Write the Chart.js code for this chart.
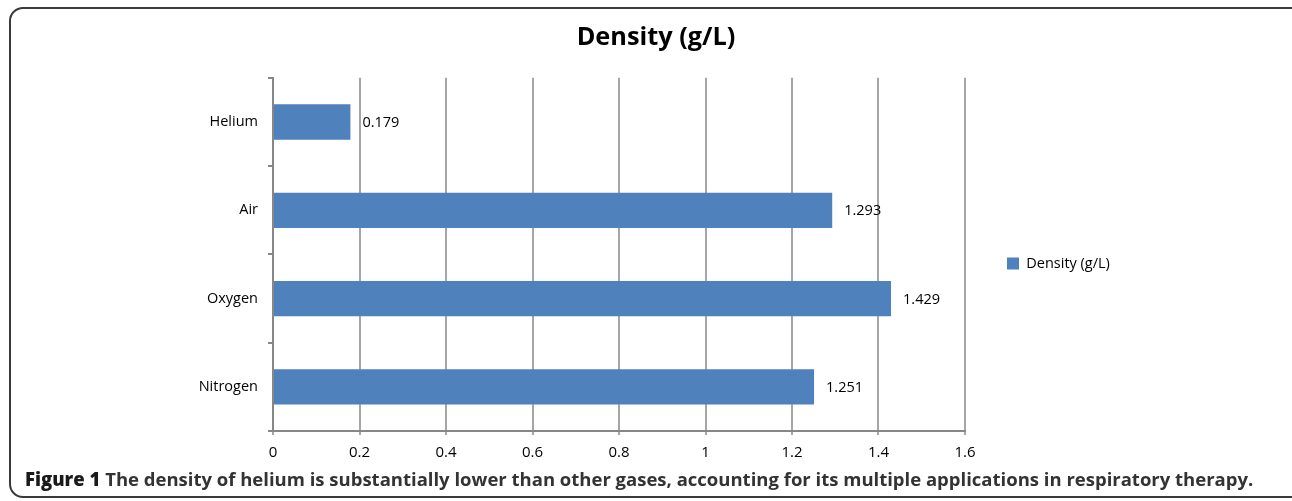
<!DOCTYPE html>
<html>
<head>
<meta charset="utf-8">
<script src="https://cdn.jsdelivr.net/npm/chart.js@4.4.1/dist/chart.umd.min.js"></script>
<style>
  html, body { margin: 0; padding: 0; background: #fff; }
  body { width: 1292px; height: 501px; position: relative; overflow: hidden; }
  #frame { position: absolute; left: 9px; top: 7px; width: 1300px; height: 491px;
           border: 2px solid #3a3a3a; border-radius: 14px; box-sizing: border-box; }
  #wrap { position: absolute; left: 0; top: 0; width: 1292px; height: 471px; }
  #caption { position: absolute; left: 25px; top: 466px; white-space: nowrap;
             font-family: "Open Sans", sans-serif; font-weight: 700; font-size: 18.5px; color: #333; }
  #caption b { color: #1a1a1a; }
</style>
</head>
<body>
<div id="frame"></div>
<div id="wrap"><canvas id="c"></canvas></div>
<div id="caption"><b>Figure 1</b> The density of helium is substantially lower than other gases, accounting for its multiple applications in respiratory therapy.</div>
<script>
const categories = ["Helium", "Air", "Oxygen", "Nitrogen"];
const densityValues = [0.179, 1.293, 1.429, 1.251];
const seriesName = "Density (g/L)";
const chartTitle = "Density (g/L)";
const xTickMin = 0, xTickMax = 1.6, xTickStep = 0.2;

const FONT = '"Open Sans", sans-serif';
const LEGEND_WIDTH = 327;
const LEGEND_SHIFT_Y = 28;

const valueLabels = {
  id: 'valueLabels',
  afterDatasetsDraw(chart) {
    const ctx = chart.ctx;
    const meta = chart.getDatasetMeta(0);
    ctx.save();
    ctx.font = '14.5px ' + FONT;
    ctx.fillStyle = '#000';
    ctx.textAlign = 'left';
    ctx.textBaseline = 'middle';
    meta.data.forEach((bar, i) => {
      ctx.fillText(String(chart.data.datasets[0].data[i]), bar.x + 12, bar.y + 1);
    });
    ctx.restore();
  }
};

const legendFix = {
  id: 'legendFix',
  beforeLayout(chart) {
    const lg = chart.legend;
    if (lg && !lg._fixed) {
      const orig = lg.fit.bind(lg);
      lg.fit = function () { orig(); this.width = LEGEND_WIDTH; };
      lg._fixed = true;
    }
  },
  afterLayout(chart) {
    const lg = chart.legend;
    if (lg) { lg.top += LEGEND_SHIFT_Y; lg.bottom += LEGEND_SHIFT_Y; }
  }
};

new Chart(document.getElementById('c'), {
  type: 'bar',
  data: {
    labels: categories,
    datasets: [{
      label: seriesName,
      data: densityValues,
      backgroundColor: '#4F81BD',
      borderWidth: 0,
      categoryPercentage: 1.0,
      barPercentage: 0.4
    }]
  },
  options: {
    indexAxis: 'y',
    responsive: true,
    maintainAspectRatio: false,
    animation: false,
    layout: { padding: { left: 20, right: 0, top: 0, bottom: 0 } },
    plugins: {
      title: {
        display: true,
        text: chartTitle,
        color: '#000',
        font: { family: FONT, size: 25.3, weight: '700' },
        padding: { top: 23, bottom: 24.5 }
      },
      legend: {
        display: true,
        position: 'right',
        labels: {
          boxWidth: 12, boxHeight: 12, padding: 42,
          color: '#000',
          font: { family: FONT, size: 14.5 }
        }
      },
      tooltip: { enabled: false }
    },
    scales: {
      x: {
        min: xTickMin, max: xTickMax,
        ticks: { stepSize: xTickStep, color: '#000', font: { family: FONT, size: 15 }, padding: 9,
                 callback: v => String(Math.round(v * 10) / 10) },
        grid: { color: '#A6A6A6', lineWidth: 2, tickLength: 4, drawTicks: true },
        border: { color: '#878787', width: 2 }
      },
      y: {
        afterFit: s => { s.width = 253; },
        ticks: { color: '#000', font: { family: FONT, size: 14.5 }, padding: 10 },
        grid: { drawOnChartArea: false, color: '#878787', lineWidth: 2, tickLength: 5, offset: true },
        border: { color: '#878787', width: 2 }
      }
    }
  },
  plugins: [valueLabels, legendFix]
});
</script>
</body>
</html>
